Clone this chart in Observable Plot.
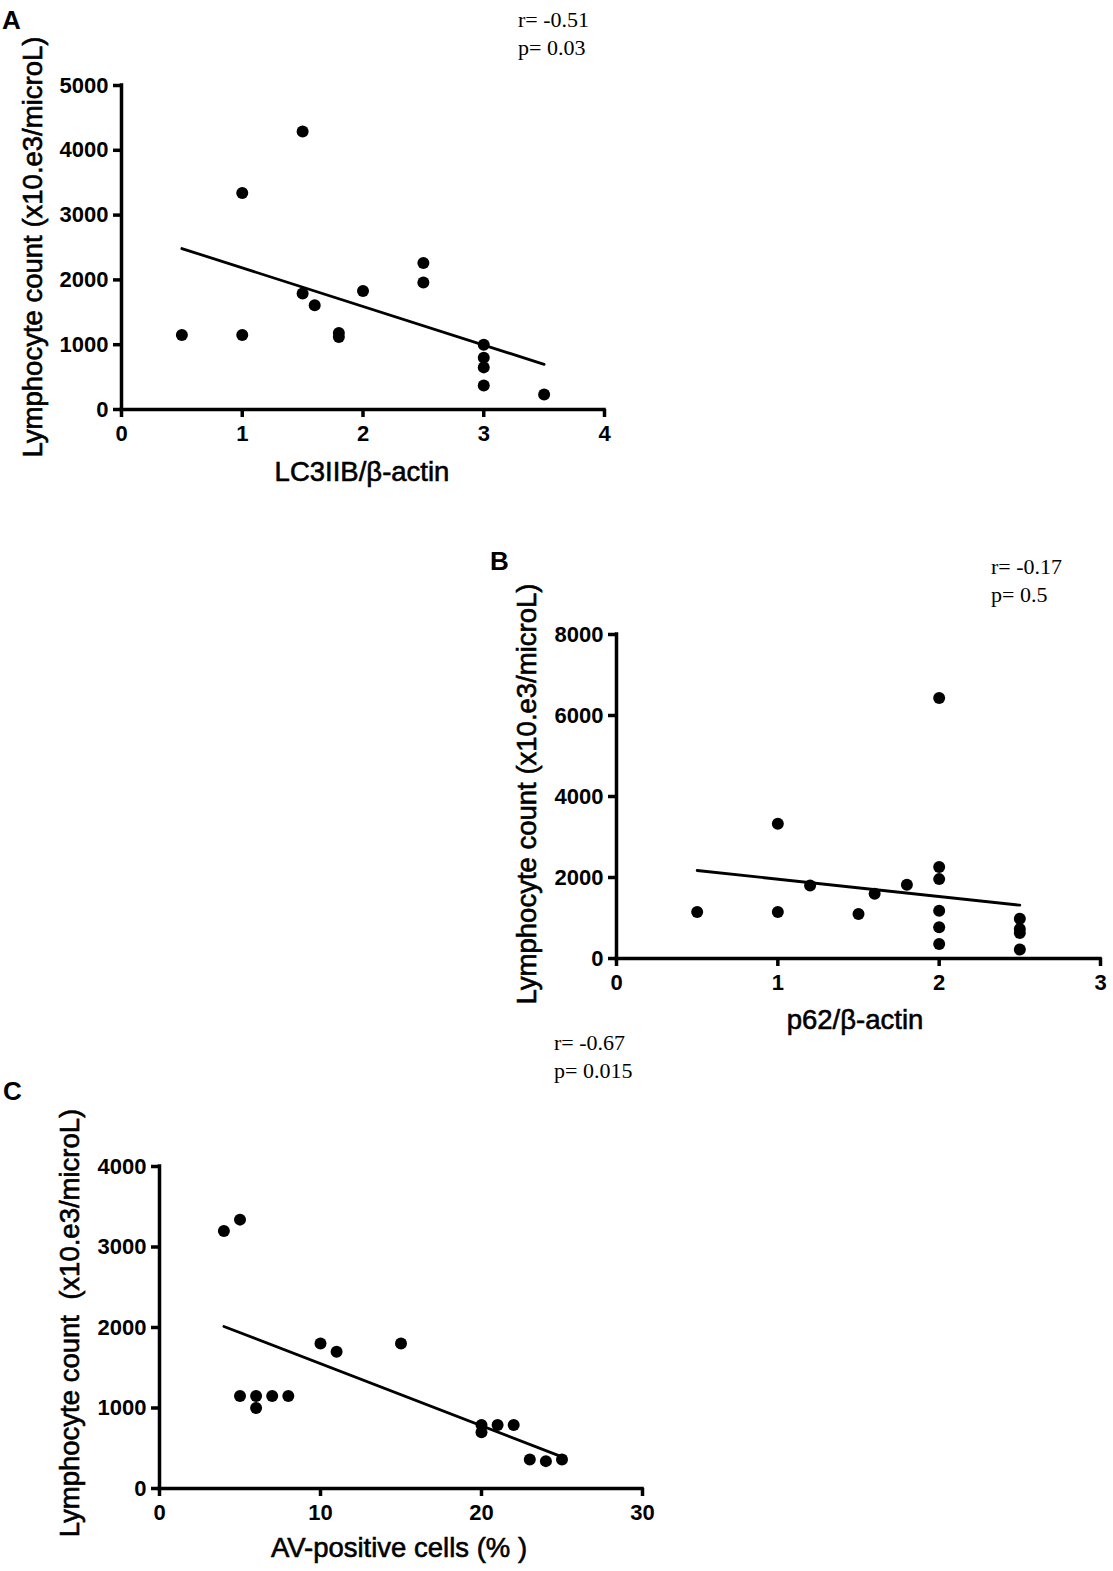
<!DOCTYPE html>
<html>
<head>
<meta charset="utf-8">
<script src="https://cdn.jsdelivr.net/npm/d3@7"></script>
<script src="https://cdn.jsdelivr.net/npm/@observablehq/plot@0.6"></script>
<style>
  html, body { margin: 0; padding: 0; background: #fff; }
  #page { position: relative; width: 1113px; height: 1571px; overflow: hidden; background: #fff; color: #000; }
  .abs { position: absolute; white-space: nowrap; line-height: 1; }
  .letter { font-family: "Liberation Sans", Arial, sans-serif; font-weight: bold; font-size: 26px; }
  .stat { font-family: "Liberation Serif", "Times New Roman", serif; font-size: 22px; line-height: 28px; }
  .ytitle { font-family: "Liberation Sans", Arial, sans-serif; font-size: 27.5px; -webkit-text-stroke: 0.6px #000; transform: translate(-50%, -50%) rotate(-90deg); }
  .xtitle { font-family: "Liberation Sans", Arial, sans-serif; font-size: 27.5px; -webkit-text-stroke: 0.6px #000; transform: translate(-50%, -50%); }
  svg { position: absolute; overflow: visible; }
</style>
</head>
<body>
<div id="page"></div>
<script>
// ---- Data ----
// Panel A: LC3IIB/β-actin vs lymphocyte count
const xA = [0.5, 1, 1, 1.5, 1.5, 1.6, 1.8, 1.8, 2, 2.5, 2.5, 3, 3, 3, 3, 3.5];
const yA = [1150, 3340, 1150, 4290, 1790, 1610, 1180, 1120, 1830, 2260, 1960, 1000, 800, 650, 370, 230];
const xTicksA = [0, 1, 2, 3, 4];
const yTicksA = [0, 1000, 2000, 3000, 4000, 5000];

// Panel B: p62/β-actin vs lymphocyte count
const xB = [0.5, 1, 1, 1.2, 1.5, 1.6, 1.8, 2, 2, 2, 2, 2, 2, 2.5, 2.5, 2.5, 2.5];
const yB = [1150, 3330, 1150, 1800, 1100, 1600, 1820, 6430, 2260, 1960, 1180, 770, 360, 980, 730, 630, 220];
const xTicksB = [0, 1, 2, 3];
const yTicksB = [0, 2000, 4000, 6000, 8000];

// Panel C: AV-positive cells (%) vs lymphocyte count
const xC = [4, 5, 5, 6, 6, 7, 8, 10, 11, 15, 20, 20, 21, 22, 23, 24, 25];
const yC = [3200, 3340, 1150, 1150, 1000, 1150, 1150, 1800, 1700, 1800, 790, 700, 790, 790, 360, 340, 360];
const xTicksC = [0, 10, 20, 30];
const yTicksC = [0, 1000, 2000, 3000, 4000];

const panels = [
  {letter: "A", xs: xA, ys: yA, xt: xTicksA, yt: yTicksA,
   ytitle: "Lymphocyte count (x10.e3/microL)", xtitle: "LC3IIB/β-actin",
   stat: ["r= -0.51", "p= 0.03"]},
  {letter: "B", xs: xB, ys: yB, xt: xTicksB, yt: yTicksB,
   ytitle: "Lymphocyte count (x10.e3/microL)", xtitle: "p62/β-actin",
   stat: ["r= -0.17", "p= 0.5"]},
  {letter: "C", xs: xC, ys: yC, xt: xTicksC, yt: yTicksC,
   ytitle: "Lymphocyte count\u00a0\u00a0(x10.e3/microL)", xtitle: "AV-positive cells (%\u00a0)",
   stat: ["r= -0.67", "p= 0.015"]}
];

// layout (page pixels)
const layout = [
  {left: 20, top: 60, width: 620, height: 420, mt: 25, mr: 36, mb: 71, ml: 101,
   letterPos: [2, 7], statPos: [518, 6], yTitle: [33, 247], xTitle: [362, 472]},
  {left: 520, top: 600, width: 600, height: 420, mt: 34, mr: 20, mb: 62, ml: 96,
   letterPos: [490, 548], statPos: [991, 553], yTitle: [527, 794], xTitle: [855, 1020]},
  {left: 60, top: 1130, width: 620, height: 420, mt: 36, mr: 38, mb: 62, ml: 99,
   letterPos: [3, 1078], statPos: [554, 1029], yTitle: [70, 1323], xTitle: [399, 1548]}
];

const page = document.getElementById("page");
const fmt = d => String(d);

panels.forEach((p, i) => {
  const L = layout[i];
  const data = p.xs.map((x, j) => ({x, y: p.ys[j]}));
  const chart = Plot.plot({
    width: L.width, height: L.height,
    marginTop: L.mt, marginRight: L.mr, marginBottom: L.mb, marginLeft: L.ml,
    style: {fontFamily: "'Liberation Sans', Arial, sans-serif", color: "#000", background: "transparent", overflow: "visible"},
    x: {domain: [p.xt[0], p.xt[p.xt.length - 1]]},
    y: {domain: [p.yt[0], p.yt[p.yt.length - 1]]},
    marks: [
      Plot.axisX({ticks: p.xt, tickFormat: fmt, tickSize: 8, tickPadding: 8, fontSize: 22, fontWeight: "bold", strokeWidth: 3.5, label: null}),
      Plot.axisY({ticks: p.yt, tickFormat: fmt, tickSize: 8, tickPadding: 5, fontSize: 22, fontWeight: "bold", strokeWidth: 3.5, label: null}),
      Plot.ruleY([p.yt[0]], {stroke: "#000", strokeWidth: 3.5, strokeLinecap: "square"}),
      Plot.ruleX([p.xt[0]], {stroke: "#000", strokeWidth: 3.5, strokeLinecap: "square"}),
      Plot.linearRegressionY(data, {x: "x", y: "y", ci: 0, stroke: "#000", strokeWidth: 2.8}),
      Plot.dot(data, {x: "x", y: "y", r: 6, fill: "#000", stroke: "none"})
    ]
  });
  chart.style.left = L.left + "px";
  chart.style.top = L.top + "px";
  page.appendChild(chart);

  const letter = document.createElement("div");
  letter.className = "abs letter";
  letter.textContent = p.letter;
  letter.style.left = L.letterPos[0] + "px";
  letter.style.top = L.letterPos[1] + "px";
  page.appendChild(letter);

  const stat = document.createElement("div");
  stat.className = "abs stat";
  stat.innerHTML = p.stat[0] + "<br>" + p.stat[1];
  stat.style.left = L.statPos[0] + "px";
  stat.style.top = L.statPos[1] + "px";
  page.appendChild(stat);

  const yt = document.createElement("div");
  yt.className = "abs ytitle";
  yt.textContent = p.ytitle;
  yt.style.left = L.yTitle[0] + "px";
  yt.style.top = L.yTitle[1] + "px";
  page.appendChild(yt);

  const xt = document.createElement("div");
  xt.className = "abs xtitle";
  xt.textContent = p.xtitle;
  xt.style.left = L.xTitle[0] + "px";
  xt.style.top = L.xTitle[1] + "px";
  page.appendChild(xt);
});
</script>
</body>
</html>
